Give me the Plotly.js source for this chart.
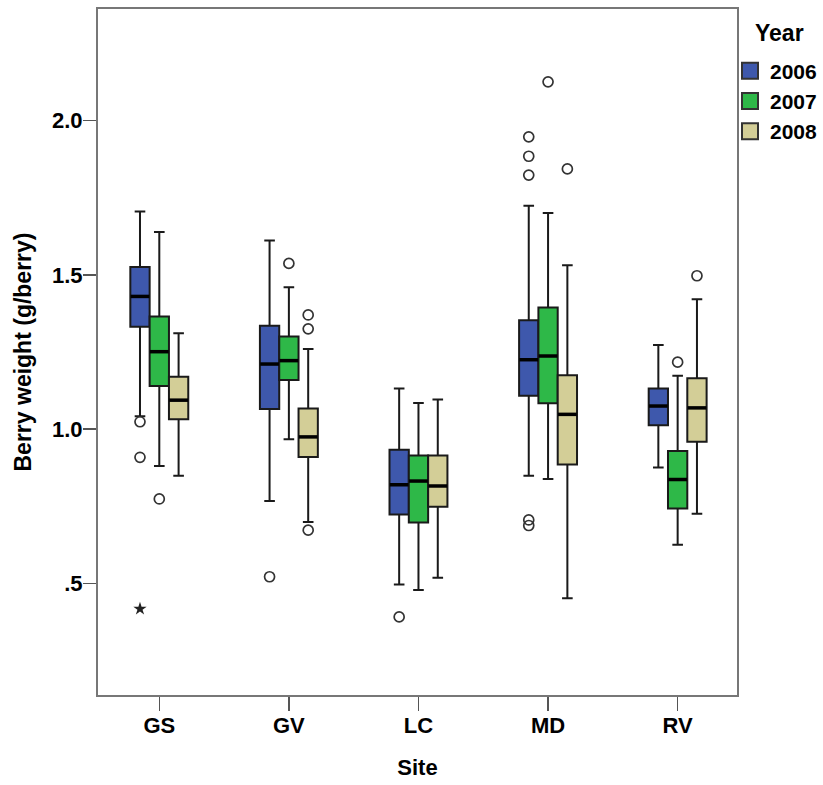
<!DOCTYPE html>
<html>
<head>
<meta charset="utf-8">
<script src="https://cdn.plot.ly/plotly-3.0.1.min.js"></script>
<style>html,body{margin:0;padding:0;background:#fff;}#chart{width:823px;height:785px;}</style>
</head>
<body>
<div id="chart"></div>
<script>
// ---- data ----
const sites = ['GS', 'GV', 'LC', 'MD', 'RV'];
const years = ['2006', '2007', '2008'];

const q1_2006  = [1.332, 1.065, 0.724, 1.108, 1.013];
const med_2006 = [1.430, 1.211, 0.820, 1.225, 1.075];
const q3_2006  = [1.525, 1.335, 0.933, 1.353, 1.132];
const lo_2006  = [1.042, 0.767, 0.497, 0.849, 0.876];
const hi_2006  = [1.705, 1.611, 1.132, 1.724, 1.273];

const q1_2007  = [1.140, 1.159, 0.698, 1.084, 0.743];
const med_2007 = [1.251, 1.222, 0.832, 1.237, 0.837];
const q3_2007  = [1.365, 1.300, 0.915, 1.394, 0.929];
const lo_2007  = [0.881, 0.967, 0.479, 0.839, 0.626];
const hi_2007  = [1.639, 1.460, 1.085, 1.700, 1.173];

const q1_2008  = [1.032, 0.910, 0.749, 0.886, 0.959];
const med_2008 = [1.094, 0.975, 0.816, 1.048, 1.069];
const q3_2008  = [1.170, 1.067, 0.915, 1.175, 1.165];
const lo_2008  = [0.849, 0.699, 0.519, 0.452, 0.726];
const hi_2008  = [1.311, 1.260, 1.096, 1.531, 1.421];

const outSite_2006 = ['GS', 'GS', 'GV', 'LC', 'MD', 'MD', 'MD', 'MD', 'MD'];
const outVal_2006  = [1.024, 0.909, 0.522, 0.392, 1.947, 1.884, 1.823, 0.706, 0.688];
const outSite_2007 = ['GS', 'GV', 'MD', 'RV'];
const outVal_2007  = [0.774, 1.537, 2.125, 1.217];
const outSite_2008 = ['GV', 'GV', 'GV', 'MD', 'RV'];
const outVal_2008  = [1.370, 1.325, 0.673, 1.843, 1.497];
const extSite_2006 = ['GS'];
const extVal_2006  = [0.418];

const yTickVals = [0.5, 1.0, 1.5, 2.0];
const yTickText = ['.5', '1.0', '1.5', '2.0'];

// ---- styling ----
const colors = ['#3E58AC', '#2EB848', '#D3CE97'];
const boxW = 0.149;
const offsets = [-boxW, 0, boxW];
const FONT = 'Liberation Sans, Arial, Helvetica, sans-serif';

const stats = [
  {q1: q1_2006, med: med_2006, q3: q3_2006, lo: lo_2006, hi: hi_2006, os: outSite_2006, ov: outVal_2006},
  {q1: q1_2007, med: med_2007, q3: q3_2007, lo: lo_2007, hi: hi_2007, os: outSite_2007, ov: outVal_2007},
  {q1: q1_2008, med: med_2008, q3: q3_2008, lo: lo_2008, hi: hi_2008, os: outSite_2008, ov: outVal_2008}
];

const traces = [];
years.forEach((yr, k) => {
  const s = stats[k];
  const xs = sites.map((_, i) => i + offsets[k]);
  traces.push({
    type: 'box', name: yr, showlegend: false, hoverinfo: 'skip',
    x: xs, q1: s.q1, median: s.med, q3: s.q3, lowerfence: s.lo, upperfence: s.hi,
    width: boxW, whiskerwidth: 0.55,
    fillcolor: colors[k],
    line: {color: '#1a1a1a', width: 2}
  });
  traces.push({
    type: 'scatter', mode: 'markers', showlegend: false, hoverinfo: 'skip',
    x: xs, y: s.med,
    marker: {symbol: 'line-ew', size: 13.4, color: '#000', line: {color: '#000', width: 3.5}}
  });
  traces.push({
    type: 'scatter', mode: 'markers', showlegend: false, hoverinfo: 'skip',
    x: s.os.map(n => sites.indexOf(n) + offsets[k]), y: s.ov,
    marker: {symbol: 'circle-open', size: 10, color: '#333', line: {color: '#333', width: 1.7}}
  });
});
traces.push({
  type: 'scatter', mode: 'markers', showlegend: false, hoverinfo: 'skip',
  x: extSite_2006.map(n => sites.indexOf(n) + offsets[0]), y: extVal_2006,
  marker: {symbol: 'star', size: 10, color: '#222'}
});
// legend entries
years.forEach((yr, k) => {
  traces.push({
    type: 'scatter', mode: 'markers', name: yr, x: [null], y: [null],
    marker: {symbol: 'square', size: 16, color: colors[k], line: {color: '#333', width: 2}}
  });
});

const layout = {
  width: 823, height: 785,
  margin: {l: 98, r: 86, t: 9, b: 90, autoexpand: false},
  paper_bgcolor: '#fff', plot_bgcolor: '#fff',
  font: {family: FONT, color: '#000', size: 22, weight: 'bold'},
  showlegend: true,
  xaxis: {
    range: [-0.473, 4.458], tickmode: 'array', tickvals: sites.map((_, i) => i), ticktext: sites,
    showgrid: false, zeroline: false, showline: true, mirror: true, linecolor: '#777', linewidth: 2,
    ticks: 'outside', ticklen: 14, tickwidth: 1.5, tickcolor: '#555', ticklabelstandoff: -4,
    tickfont: {family: FONT, size: 22, color: '#000', weight: 'bold'},
    title: {text: 'Site', font: {family: FONT, size: 22, color: '#000', weight: 'bold'}, standoff: 22}
  },
  yaxis: {
    range: [0.139, 2.361], tickmode: 'array', tickvals: yTickVals, ticktext: yTickText,
    showgrid: false, zeroline: false, showline: true, mirror: true, linecolor: '#777', linewidth: 2,
    ticks: 'outside', ticklen: 13, tickwidth: 1.5, tickcolor: '#555', ticklabelstandoff: -4,
    tickfont: {family: FONT, size: 22, color: '#000', weight: 'bold'},
    title: {text: 'Berry weight (g/berry)', font: {family: FONT, size: 23, color: '#000', weight: 'bold'}, standoff: 14}
  },
  legend: {
    xref: 'container', yref: 'container',
    x: 0.887, xanchor: 'left', y: 0.9357, yanchor: 'top',
    bgcolor: 'rgba(0,0,0,0)', borderwidth: 0, tracegroupgap: 0,
    font: {family: FONT, size: 21, color: '#000', weight: 'bold'},
    itemwidth: 30
  },
  annotations: [{
    text: 'Year', xref: 'paper', yref: 'paper', x: 1.067, xanchor: 'center', y: 0.965, yanchor: 'middle',
    showarrow: false, font: {family: FONT, size: 23, color: '#000', weight: 'bold'}
  }]
};

Plotly.newPlot('chart', traces, layout, {displayModeBar: false, staticPlot: true});
</script>
</body>
</html>
